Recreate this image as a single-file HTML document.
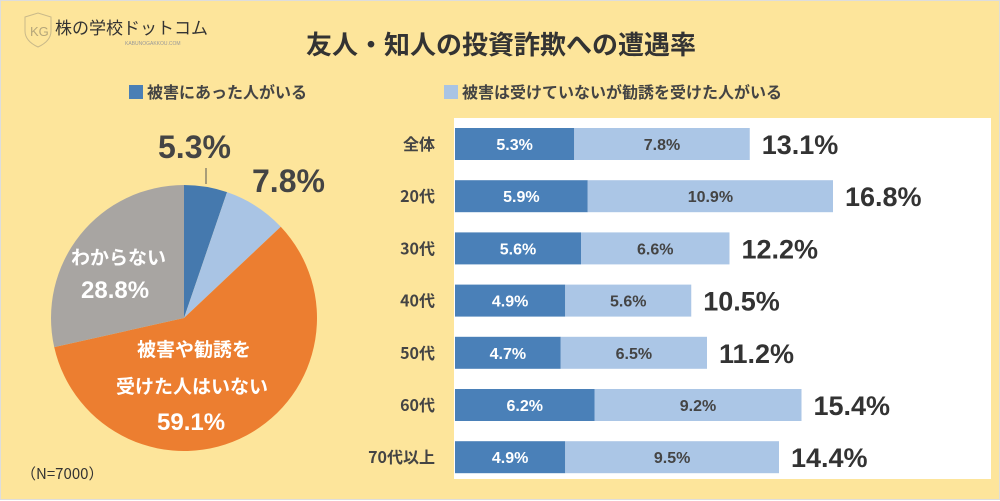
<!DOCTYPE html>
<html><head><meta charset="utf-8"><style>
body{margin:0;width:1000px;height:500px;overflow:hidden;background:#fff;font-family:"Liberation Sans","Noto Sans CJK JP",sans-serif}
#wrap{position:absolute;left:0;top:0;width:998px;height:498px;background:#FDE59B;border:1px solid #ddd}
.t{position:absolute;white-space:nowrap;font-weight:bold}
</style></head><body>
<div id="wrap">
<svg width="1000" height="500" style="position:absolute;left:0;top:0" id="svg">
<g>
<path d="M24 16 L37 12 L50 16 L50 30 Q50 40 37 46 Q24 40 24 30 Z" fill="none" stroke="#c9b98a" stroke-width="1"/>
<text x="29" y="35" font-size="13" fill="#b5a67a" font-family="Liberation Sans">KG</text>
<text x="54" y="33" font-size="17" fill="#333" font-family="Noto Sans CJK JP">株の学校ドットコム</text>
<text x="124" y="44" font-size="5" fill="#999">KABUNOGAKKOU.COM</text>
</g>
<text x="500" y="53" text-anchor="middle" font-size="26" font-weight="bold" fill="#333" font-family="Noto Sans CJK JP">友人・知人の投資詐欺への遭遇率</text>
<rect x="128" y="84" width="14" height="14" fill="#4A7FB5"/>
<text x="146" y="97" font-size="16" font-weight="bold" fill="#444" font-family="Noto Sans CJK JP">被害にあった人がいる</text>
<rect x="443" y="84" width="14" height="14" fill="#A9C4E4"/>
<text x="461" y="97" font-size="16" font-weight="bold" fill="#444" font-family="Noto Sans CJK JP">被害は受けていないが勧誘を受けた人がいる</text>
<rect x="453" y="117" width="537" height="361" fill="#fff"/>
<g id="pie"></g><g id="bars"></g>
<line x1="205" y1="167" x2="205" y2="183" stroke="#555" stroke-width="1"/>
</svg>
<div class="t" style="left:157px;top:128px;font-size:32px;color:#444">5.3%</div>
<div class="t" style="left:251px;top:162px;font-size:32px;color:#444">7.8%</div>
<div class="t" style="left:70px;top:244px;font-size:19px;color:#fff;font-family:'Noto Sans CJK JP',sans-serif;line-height:24px">わからない</div>
<div class="t" style="left:80px;top:276px;font-size:24px;color:#fff">28.8%</div>
<div class="t" style="left:136px;top:336px;font-size:19px;color:#fff;font-family:'Noto Sans CJK JP',sans-serif;line-height:24px">被害や勧誘を</div>
<div class="t" style="left:115px;top:373px;font-size:19px;color:#fff;font-family:'Noto Sans CJK JP',sans-serif;line-height:24px">受けた人はいない</div>
<div class="t" style="left:156px;top:408px;font-size:24px;color:#fff">59.1%</div>
<div class="t" style="left:20px;top:462px;font-size:15px;font-weight:normal;color:#333;font-family:'Noto Sans CJK JP',sans-serif">（N=7000）</div>
</div>
<script>
const pieLabels=["被害にあった人がいる","勧誘を受けた人がいる","被害や勧誘を受けた人はいない","わからない"];
const pieValues=[5.3,7.8,59.1,28.8];
const pieColors=["#4579AE","#A9C4E4","#EC7E30","#A8A5A2"];
const categories=["全体","20代","30代","40代","50代","60代","70代以上"];
const victim=[5.3,5.9,5.6,4.9,4.7,6.2,4.9];
const solicited=[7.8,10.9,6.6,5.6,6.5,9.2,9.5];
const totals=[13.1,16.8,12.2,10.5,11.2,15.4,14.4];
const NS="http://www.w3.org/2000/svg";
function mk(t,a,p){const e=document.createElementNS(NS,t);for(const k in a)e.setAttribute(k,a[k]);p.appendChild(e);return e;}
const cx=183,cy=317,r=133,pie=document.getElementById('pie');
let tot=pieValues.reduce((a,b)=>a+b,0),acc=0;
pieValues.forEach((v,i)=>{
 const a0=acc/tot*2*Math.PI;acc+=v;const a1=acc/tot*2*Math.PI;
 const x0=cx+r*Math.sin(a0),y0=cy-r*Math.cos(a0),x1=cx+r*Math.sin(a1),y1=cy-r*Math.cos(a1);
 const p=mk('path',{d:`M${cx} ${cy}L${x0} ${y0}A${r} ${r} 0 ${a1-a0>Math.PI?1:0} 1 ${x1} ${y1}Z`,fill:pieColors[i]},pie);
 
 
});
const x0=454,sx=22.5,rowY0=143,rowH=52.2,bh=32,bars=document.getElementById('bars');
const X=v=>x0+v*sx;
categories.forEach((c,i)=>{
 const yc=rowY0+i*rowH,y=yc-bh/2;
 const t=mk('text',{x:434,y:yc+6,'text-anchor':'end','font-size':16,'font-weight':'bold',fill:'#444','font-family':'Noto Sans CJK JP, sans-serif'},bars);t.textContent=c;
 
 
 const b1=mk('rect',{x:X(0),y:y,width:X(victim[i])-X(0),height:bh,fill:'#4A80B8'},bars);
 
 
 const b2=mk('rect',{x:X(victim[i]),y:y,width:X(victim[i]+solicited[i])-X(victim[i]),height:bh,fill:'#ABC6E6'},bars);
 
 
 const l1=mk('text',{x:(X(0)+X(victim[i]))/2,y:yc+6,'text-anchor':'middle','font-size':16,'font-weight':'bold',fill:'#fff'},bars);l1.textContent=victim[i].toFixed(1)+'%';
 
 
 const l2=mk('text',{x:(X(victim[i])+X(victim[i]+solicited[i]))/2,y:yc+6,'text-anchor':'middle','font-size':16,'font-weight':'bold',fill:'#444'},bars);l2.textContent=solicited[i].toFixed(1)+'%';
 
 
 const l3=mk('text',{x:X(victim[i]+solicited[i])+12,y:yc+10,'font-size':27,'font-weight':'bold',fill:'#333'},bars);l3.textContent=totals[i].toFixed(1)+'%';
 
 
});
</script>
</body></html>
